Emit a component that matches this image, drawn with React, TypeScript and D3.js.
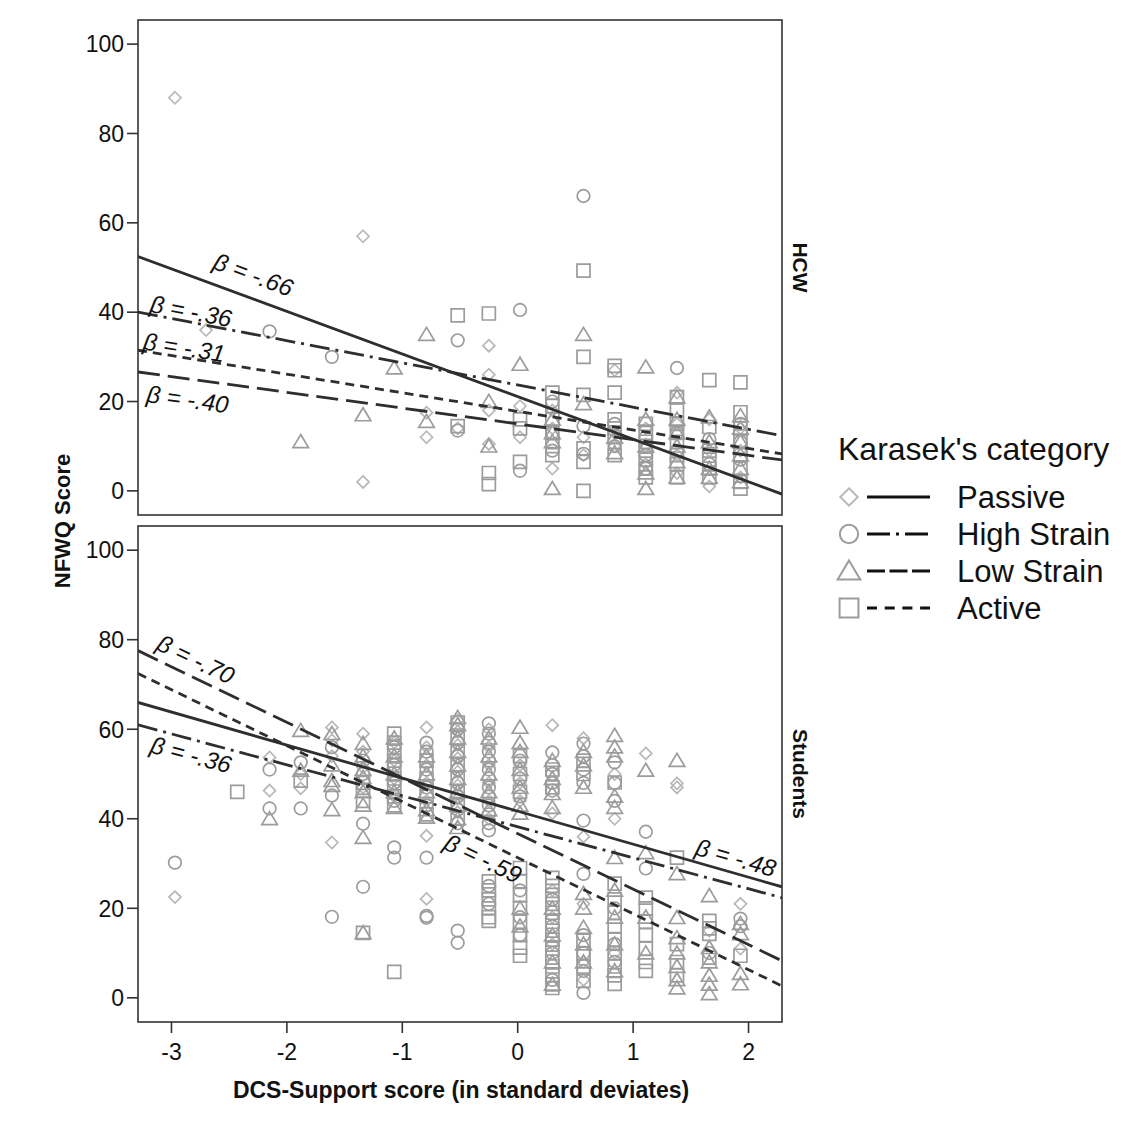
import React from 'react';
import * as d3 from 'd3';

type Col = [number, number[]];

const categories = ['Passive', 'High Strain', 'Low Strain', 'Active'];
const panels = ['HCW', 'Students'];
const xTicks = [-3, -2, -1, 0, 1, 2];
const yTicks = [0, 20, 40, 60, 80, 100];

// HCW panel points: [x, [scores...]]
const hcwPassive: Col[] = [
  [-2.97, [88]], [-2.70, [36]], [-1.34, [57, 2]], [-0.79, [17.5, 12]], [-0.52, [14]],
  [-0.25, [32.5, 26, 18, 10.5]], [0.02, [19, 12]], [0.30, [18, 14, 5]], [0.57, [12, 8]],
  [0.84, [27, 13, 10]], [1.11, [14, 10, 6]], [1.38, [22, 15, 8, 4]], [1.66, [16, 9, 1]],
  [1.93, [14, 9, 3]],
];
const hcwHighStrain: Col[] = [
  [-2.15, [35.7]], [-1.61, [30]], [-0.52, [33.7, 13.5]], [0.02, [40.5, 4.5]],
  [0.30, [20, 13, 9]], [0.57, [66, 14.5, 8.3]], [0.84, [15, 10]], [1.11, [12, 8, 5]],
  [1.38, [27.5, 13, 9]], [1.66, [11.6, 6]], [1.93, [15, 11, 7]],
];
const hcwLowStrain: Col[] = [
  [-1.88, [11]], [-1.34, [17]], [-1.07, [27.5]], [-0.79, [35, 15.5]], [-0.25, [20, 10]],
  [0.02, [28.3]], [0.30, [16, 13, 11, 0.5]], [0.57, [35, 19.5]], [0.84, [12, 8.5]],
  [1.11, [27.7, 16, 10, 4, 0.5]], [1.38, [21, 16, 13, 10, 6.5, 3]], [1.66, [16.5, 11, 5, 3]],
  [1.93, [16.8, 14, 11, 8, 5, 2]],
];
const hcwActive: Col[] = [
  [-0.52, [39.3, 14.5]], [-0.25, [39.7, 4, 1.5]], [0.02, [16, 14, 6.5]],
  [0.30, [22, 19, 16, 13, 10, 8]], [0.57, [49.3, 30, 21.5, 9.5, 6.5, 0]],
  [0.84, [28, 27, 22, 16, 14, 12, 8]], [1.11, [15, 13, 11, 9, 7, 5, 3]],
  [1.38, [21, 18, 15, 13, 11, 8, 6, 3]], [1.66, [24.8, 14.3, 9, 7, 5, 3]],
  [1.93, [24.3, 17.6, 14, 11, 8, 5, 2, 0.5]],
];

// Students panel points
const stuPassive: Col[] = [
  [-2.97, [22.5]], [-2.15, [53.7, 46.3]], [-1.88, [50, 46.8]], [-1.61, [60.4, 57.5, 54, 34.7]],
  [-1.34, [59, 55, 51.5, 47]], [-1.07, [57, 53, 49, 45]], [-0.79, [60.4, 56, 52, 48, 44, 36.2, 22.1]],
  [-0.52, [62, 59.5, 56.5, 53.5, 50.5, 47.5, 44.5, 41.5]], [-0.25, [60, 56, 52, 48, 44, 40]],
  [0.02, [52, 48, 44]], [0.30, [60.9, 41.2, 24, 18, 12]], [0.57, [58, 36, 21, 8, 4]],
  [0.84, [50, 40, 10]], [1.11, [54.6]], [1.38, [47.9, 47]], [1.66, [15]], [1.93, [21, 11]],
];
const stuHighStrain: Col[] = [
  [-2.97, [30.2]], [-2.15, [51, 42.3]], [-1.88, [52.6, 42.3]], [-1.61, [56, 45.2, 18.1]],
  [-1.34, [53, 50, 38.9, 24.8]], [-1.07, [56, 52, 48, 44, 33.6, 31.3]],
  [-0.79, [57, 55, 51, 47, 43, 31.3, 18.3, 17.9]],
  [-0.52, [60, 57, 54, 51, 48, 45, 42, 39, 15, 12.3]],
  [-0.25, [61.3, 59, 57, 55, 53, 51, 49, 47, 45, 43, 41, 39, 37.4, 25, 21]],
  [0.02, [53, 49, 45, 24, 18, 14]], [0.30, [54.8, 52, 50, 48, 46.3, 22, 16, 10, 4]],
  [0.57, [56.8, 54, 51, 48, 39.6, 27.7, 14, 10, 6, 1.1]], [0.84, [52.6, 48, 44, 20, 12, 8]],
  [1.11, [37.1, 28.9]], [1.66, [10]], [1.93, [17.7, 16]],
];
const stuLowStrain: Col[] = [
  [-2.15, [40]], [-1.88, [59.7, 50.8]], [-1.61, [59, 52, 48.5, 47.4, 42]],
  [-1.34, [56.8, 54, 51, 49.2, 46, 43, 35.8, 14.5]], [-1.07, [58, 54, 50, 46, 42.5]],
  [-0.79, [54, 50, 46, 42, 40.3]], [-0.52, [62.6, 61, 58, 55, 52, 49, 46, 43, 40, 38]],
  [-0.25, [58, 54, 50, 46, 42]], [0.02, [60.4, 57, 55, 51, 47, 43, 41.2, 20, 16]],
  [0.30, [53, 49, 45.6, 42.5, 20, 14, 8, 3]], [0.57, [55, 52, 47, 23.3, 20, 15.7, 12, 8]],
  [0.84, [58.6, 56, 54, 45, 42.5, 31.3, 24, 18, 12, 6]], [1.11, [50.8, 32.4, 18, 10]],
  [1.38, [53, 27.7, 17.9, 13.4, 10, 7, 4, 2.2]], [1.66, [22.8, 11.2, 8, 5, 3, 0.9]],
  [1.93, [16.6, 14.3, 5.4, 3.1]],
];
const stuActive: Col[] = [
  [-2.43, [46]], [-1.88, [48.5]], [-1.34, [48, 46.3, 44, 14.5]],
  [-1.07, [59, 57, 55, 53, 51, 49, 47, 45, 43, 5.8]], [-0.79, [53, 49, 45, 41]],
  [-0.52, [61.5, 58, 55, 52, 49, 46, 43, 40]], [-0.25, [26, 24, 22, 20, 18, 17.2]],
  [0.02, [54, 50, 46, 29, 26, 23, 20, 17, 14, 11.2, 9.4]],
  [0.30, [51, 47, 26.8, 25, 23, 21, 19, 17, 15, 13, 11, 9, 7, 5, 3, 2.2]],
  [0.57, [53, 50, 12.8, 10, 7, 3.8]], [0.84, [48.1, 25.5, 22, 19, 16, 13, 10, 7, 5, 3.1]],
  [1.11, [22.4, 20, 17, 14, 11, 8, 6]], [1.38, [31.3, 12, 8, 5]], [1.66, [17.2, 15.5, 14.3, 9]],
  [1.93, [9.4]],
];

// regression fits per category (intercept at x=0, slope per SD)
const hcwIntercepts = [21.1, 23.7, 15.0, 17.8];
const hcwSlopes = [-9.53, -4.96, -3.53, -4.16];
const stuIntercepts = [41.7, 38.2, 36.7, 31.3];
const stuSlopes = [-7.38, -6.92, -12.42, -12.51];

// beta annotations
const hcwBetas = ['-.66', '-.36', '-.40', '-.31'];
const hcwBetaX = [-2.29, -2.83, -2.86, -2.89];
const hcwBetaY = [48.4, 40.2, 20.5, 32.1];
const stuBetas = ['-.48', '-.36', '-.70', '-.59'];
const stuBetaX = [1.89, -2.83, -2.79, -0.30];
const stuBetaY = [31.3, 54.3, 75.6, 31.1];

const panelData = [
  { pts: [hcwPassive, hcwHighStrain, hcwLowStrain, hcwActive], b0: hcwIntercepts, b1: hcwSlopes,
    betas: hcwBetas, bx: hcwBetaX, by: hcwBetaY },
  { pts: [stuPassive, stuHighStrain, stuLowStrain, stuActive], b0: stuIntercepts, b1: stuSlopes,
    betas: stuBetas, bx: stuBetaX, by: stuBetaY },
];

const W = 1121;
const H = 1124;
const left = 138;
const right = 782;
const panelY = [[20, 515], [526, 1022]];
const font = '"Liberation Sans", Arial, sans-serif';
const dashes = ['none', '20,6,3,6', '22,8', '9,6'];
const legendDashes = ['none', '23,6,3,6', '18,4.5', '10,7.7'];
const markerStroke = ['#b8b8b8', '#9c9c9c', '#9c9c9c', '#9c9c9c'];

const marker = (i: number, s: number) => {
  if (i === 0) return `M0,${-6 * s}L${6 * s},0L0,${6 * s}L${-6 * s},0Z`;
  if (i === 1) return d3.arc()({ innerRadius: 0, outerRadius: 6.3 * s, startAngle: 0, endAngle: 2 * Math.PI }) as string;
  if (i === 2) return `M0,${-7.2 * s}L${7.8 * s},${5.8 * s}L${-7.8 * s},${5.8 * s}Z`;
  return `M${-6.5 * s},${-6.5 * s}h${13 * s}v${13 * s}h${-13 * s}Z`;
};

export default function App() {
  const x = d3.scaleLinear().domain([-3.29, 2.29]).range([left, right]);
  const [x0, x1] = x.domain();

  return (
    <div style={{ position: 'absolute', left: 0, top: 0 }}>
      <svg width={W} height={H} style={{ display: 'block', background: '#fff' }} fontFamily={font}>
        {panelData.map((pd, pi) => {
          const [top, bottom] = panelY[pi];
          const y = d3.scaleLinear().domain([-5.4, 105.4]).range([bottom, top]);
          return (
            <g key={pi}>
              <rect x={left} y={top} width={right - left} height={bottom - top} fill="#fff" stroke="#333" strokeWidth={1.6} />
              {yTicks.map(t => (
                <g key={t}>
                  <line x1={left - 11} x2={left} y1={y(t)} y2={y(t)} stroke="#333" strokeWidth={1.6} />
                  <text x={left - 14} y={y(t)} dy="0.36em" textAnchor="end" fontSize={23} fill="#111">{t}</text>
                </g>
              ))}
              {pd.pts.map((cat, ci) =>
                cat.flatMap(([xv, ys], k) =>
                  ys.map((yv, j) => (
                    <path key={`${ci}-${k}-${j}`} d={marker(ci, 1)} transform={`translate(${x(xv)},${y(yv)})`}
                      fill="none" stroke={markerStroke[ci]} strokeWidth={1.7} />
                  ))
                )
              )}
              <clipPath id={`clip${pi}`}>
                <rect x={left} y={top} width={right - left} height={bottom - top} />
              </clipPath>
              <g clipPath={`url(#clip${pi})`}>
                {categories.map((c, ci) => {
                  const f = (v: number) => pd.b0[ci] + pd.b1[ci] * v;
                  const path = d3.line<number>().x(v => x(v)).y(v => y(f(v)))([x0, x1]) as string;
                  return (
                    <path key={c} d={path} fill="none" stroke="#2e2e2e" strokeWidth={2.8}
                      strokeDasharray={dashes[ci]} />
                  );
                })}
              </g>
              {categories.map((c, ci) => {
                const ang = Math.atan2(y(pd.b1[ci]) - y(0), x(1) - x(0)) * 180 / Math.PI;
                return (
                  <text key={c} transform={`translate(${x(pd.bx[ci])},${y(pd.by[ci])}) rotate(${ang})`}
                    textAnchor="middle" dy="0.35em" fontSize={24} fontStyle="italic" fill="#111">
                    {`β = ${pd.betas[ci]}`}
                  </text>
                );
              })}
              <text transform={`translate(800,${(top + bottom) / 2}) rotate(90)`} textAnchor="middle"
                dy="0.35em" fontSize={21} fontWeight="bold" fill="#111">{panels[pi]}</text>
              {pi === 1 && xTicks.map(t => (
                <g key={t}>
                  <line x1={x(t)} x2={x(t)} y1={bottom} y2={bottom + 11} stroke="#333" strokeWidth={1.6} />
                  <text x={x(t)} y={bottom + 38} textAnchor="middle" fontSize={23} fill="#111">{t}</text>
                </g>
              ))}
            </g>
          );
        })}
        <text x={461} y={1098} textAnchor="middle" fontSize={23} fontWeight="bold" fill="#111">
          DCS-Support score (in standard deviates)
        </text>
        <text transform="translate(62,521) rotate(-90)" textAnchor="middle" dy="0.35em" fontSize={22}
          fontWeight="bold" fill="#111">NFWQ Score</text>
        <g>
          <text x={838} y={460} fontSize={32} fill="#111">Karasek's category</text>
          {categories.map((c, ci) => {
            const ly = 497 + ci * 37;
            return (
              <g key={c}>
                <path d={marker(ci, 1.45)} transform={`translate(849,${ly})`} fill="none"
                  stroke={markerStroke[ci]} strokeWidth={2} />
                <line x1={867} x2={930} y1={ly} y2={ly} stroke="#111" strokeWidth={3}
                  strokeDasharray={legendDashes[ci]} />
                <text x={957} y={ly} dy="0.36em" fontSize={31} fill="#111">{c}</text>
              </g>
            );
          })}
        </g>
      </svg>
    </div>
  );
}
